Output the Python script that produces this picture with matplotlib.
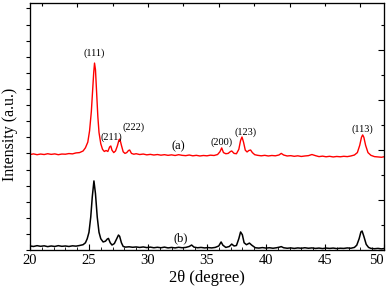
import matplotlib
matplotlib.use('Agg')
import matplotlib.pyplot as plt
from matplotlib.ticker import MultipleLocator, NullFormatter

# ---- data (2theta in degree, intensity in a.u.) ----
x_a = [20.0, 20.3, 20.6, 20.9, 21.2, 21.5, 21.8, 22.1, 22.4, 22.7, 23.0, 23.3,
       23.6, 23.9, 24.2, 24.5, 24.7, 24.9, 25.05, 25.2, 25.3, 25.4, 25.47, 25.55,
       25.65, 25.75, 25.85, 26.0, 26.15, 26.3, 26.45, 26.6, 26.75, 26.85, 26.95,
       27.1, 27.25, 27.4, 27.55, 27.62, 27.75, 27.9, 28.05, 28.2, 28.35, 28.45,
       28.6, 28.8, 29.0, 29.3, 29.6, 29.9, 30.2, 30.5, 30.8, 31.1, 31.4, 31.7,
       32.0, 32.3, 32.6, 32.9, 33.2, 33.5, 33.8, 34.1, 34.4, 34.7, 35.0, 35.3,
       35.6, 35.9, 36.1, 36.25, 36.4, 36.6, 36.8, 37.0, 37.1, 37.3, 37.5, 37.7,
       37.85, 37.97, 38.1, 38.25, 38.4, 38.55, 38.7, 38.85, 39.05, 39.3, 39.6,
       39.9, 40.2, 40.5, 40.8, 41.1, 41.3, 41.5, 41.8, 42.1, 42.4, 42.7, 43.0,
       43.3, 43.6, 43.9, 44.2, 44.5, 44.8, 45.1, 45.4, 45.7, 46.0, 46.3, 46.6,
       46.9, 47.2, 47.5, 47.75, 47.95, 48.1, 48.2, 48.3, 48.45, 48.65, 48.9,
       49.2, 49.5, 49.8, 50.0]
y_a = [5.93, 5.97, 5.92, 5.96, 5.93, 5.98, 5.94, 5.97, 5.92, 5.96, 5.95, 5.99,
       5.97, 6.03, 6.05, 6.15, 6.35, 6.70, 7.40, 8.60, 9.80, 11.0, 11.61, 11.2,
       9.7, 8.3, 7.3, 6.6, 6.25, 6.12, 6.18, 6.12, 6.40, 6.46, 6.20,
       6.05, 6.15, 6.45, 6.85, 6.89, 6.50, 6.10, 6.00, 6.05, 6.18, 6.21,
       6.00, 5.95, 5.98, 5.93, 5.96, 5.91, 5.94, 5.90, 5.93, 5.89, 5.92, 5.88,
       5.91, 5.87, 5.92, 5.88, 5.86, 5.90, 5.85, 5.88, 5.84, 5.87, 5.85, 5.89,
       5.87, 5.93, 6.10, 6.34, 6.05, 5.98, 6.00, 6.12, 6.15, 6.00, 5.98, 6.25,
       6.80, 7.02, 6.70, 6.20, 6.09, 6.18, 6.21, 6.05, 5.92, 5.88, 5.85,
       5.88, 5.84, 5.87, 5.85, 5.90, 6.00, 5.90, 5.84, 5.86, 5.82, 5.85, 5.81,
       5.84, 5.86, 5.93, 5.86, 5.80, 5.83, 5.79, 5.82, 5.78, 5.81, 5.79, 5.82,
       5.80, 5.84, 5.90, 6.05, 6.50, 7.00, 7.15, 7.00, 6.50, 6.05, 5.88,
       5.80, 5.78, 5.76, 5.79]

x_b = [20.0, 20.3, 20.6, 20.9, 21.2, 21.5, 21.8, 22.1, 22.4, 22.7, 23.0, 23.3,
       23.6, 23.9, 24.2, 24.5, 24.7, 24.85, 25.0, 25.15, 25.28, 25.42, 25.55,
       25.7, 25.85, 26.0, 26.2, 26.4, 26.55, 26.65, 26.8, 26.95, 27.15, 27.35,
       27.5, 27.6, 27.75, 27.9, 28.1, 28.4, 28.7, 29.0, 29.3, 29.6, 29.9, 30.2,
       30.5, 30.8, 31.1, 31.4, 31.7, 32.0, 32.3, 32.6, 32.9, 33.2, 33.5, 33.7,
       33.9, 34.2, 34.5, 34.8, 35.1, 35.4, 35.7, 36.0, 36.2, 36.35, 36.6, 36.9,
       37.1, 37.3, 37.5, 37.7, 37.85, 38.0, 38.15, 38.35, 38.6, 38.8, 39.1,
       39.4, 39.7, 40.0, 40.3, 40.6, 40.9, 41.15, 41.3, 41.5, 41.8, 42.1, 42.4,
       42.7, 43.0, 43.3, 43.6, 43.9, 44.2, 44.5, 44.8, 45.1, 45.4, 45.7, 46.0,
       46.3, 46.6, 46.9, 47.2, 47.5, 47.7, 47.9, 48.05, 48.15, 48.3, 48.5,
       48.7, 48.9, 49.2, 49.5, 49.8, 50.0]
y_b = [0.25, 0.22, 0.27, 0.23, 0.26, 0.21, 0.25, 0.22, 0.27, 0.23, 0.25, 0.22,
       0.26, 0.24, 0.28, 0.33, 0.45, 0.70, 1.10, 2.05, 3.30, 4.29, 3.50,
       2.05, 1.10, 0.70, 0.50, 0.55, 0.68, 0.72, 0.45, 0.31, 0.40, 0.70,
       0.93, 0.85, 0.45, 0.22, 0.18, 0.20, 0.17, 0.19, 0.16, 0.19, 0.15, 0.18,
       0.14, 0.17, 0.14, 0.18, 0.13, 0.16, 0.13, 0.17, 0.14, 0.16, 0.22, 0.31,
       0.18, 0.14, 0.16, 0.13, 0.15, 0.13, 0.16, 0.25, 0.50, 0.30, 0.16, 0.22,
       0.37, 0.25, 0.28, 0.70, 1.12, 0.95, 0.45, 0.33, 0.43, 0.30, 0.14,
       0.12, 0.15, 0.12, 0.14, 0.11, 0.14, 0.18, 0.21, 0.14, 0.11, 0.13, 0.10,
       0.13, 0.11, 0.14, 0.11, 0.13, 0.10, 0.12, 0.09, 0.12, 0.10, 0.12, 0.09,
       0.11, 0.10, 0.13, 0.11, 0.16, 0.30, 0.70, 1.12, 1.18, 0.85, 0.35,
       0.16, 0.10, 0.08, 0.10, 0.07, 0.09]

# peak labels: (text, 2theta, intensity)
peak_labels = ['(111)', '(211)', '(222)', '(200)', '(123)', '(113)']
peak_x = [25.4, 26.9, 28.8, 36.2, 38.3, 48.2]
peak_y = [12.2, 7.0, 7.6, 6.7, 7.3, 7.5]

curve_labels = ['(a)', '(b)']
curve_lx = [32.6, 32.8]
curve_ly = [6.45, 0.7]

x_ticks = [20, 25, 30, 35, 40, 45, 50]

plt.rcParams['font.family'] = ['Liberation Serif', 'DejaVu Serif']

fig = plt.figure(figsize=(3.87, 2.95), dpi=100)
ax = fig.add_axes([0.0775, 0.1525, 0.9145, 0.8373])

ax.plot(x_a, y_a, color='#ff0000', lw=1.0)
ax.plot(x_b, y_b, color='black', lw=1.1)

for t, px, py in zip(peak_labels, peak_x, peak_y):
    ax.text(px, py, t, fontsize=7.5, ha='center', va='center')
for t, px, py in zip(curve_labels, curve_lx, curve_ly):
    ax.text(px, py, t, fontsize=9, ha='center', va='center')

ax.set_xlim(20, 50)
ax.set_ylim(0, 15.34)
ax.set_xticks(x_ticks)
ax.set_xticklabels([str(t) for t in x_ticks])
ax.get_xticklabels()[-1].set_horizontalalignment('right')
ax.xaxis.set_minor_locator(MultipleLocator(1))
ax.yaxis.set_major_locator(MultipleLocator(1))
ax.yaxis.set_major_formatter(NullFormatter())
ax.tick_params(axis='x', which='major', direction='in', length=4, width=0.8,
               labelsize=10.5, pad=3)
ax.tick_params(axis='x', which='minor', direction='in', length=2, width=0.6)
ax.tick_params(axis='y', which='major', direction='out', length=3, width=0.8)

# right and top tick marks
axr = ax.twinx()
axr.set_ylim(0, 9.88)
axr.yaxis.set_major_locator(MultipleLocator(2))
axr.yaxis.set_minor_locator(MultipleLocator(1))
axr.yaxis.set_major_formatter(NullFormatter())
axr.tick_params(axis='y', which='major', direction='in', length=4, width=0.8)
axr.tick_params(axis='y', which='minor', direction='in', length=2.5, width=0.8)

axt = ax.twiny()
axt.set_xlim(20, 50)
axt.xaxis.set_major_locator(MultipleLocator(6))
axt.xaxis.set_minor_locator(MultipleLocator(3))
axt.xaxis.set_major_formatter(NullFormatter())
axt.tick_params(axis='x', which='major', direction='in', length=3, width=0.8)
axt.tick_params(axis='x', which='minor', direction='in', length=2, width=0.8)

for a in (ax, axr, axt):
    for s in a.spines.values():
        s.set_linewidth(0.8)

ax.set_xlabel('2\u03b8 (degree)', fontsize=12, labelpad=2)
ax.set_ylabel('Intensity (a.u.)', fontsize=11.5)
ax.yaxis.set_label_coords(-0.034, 0.47)

fig.savefig('out.png', dpi=100)
